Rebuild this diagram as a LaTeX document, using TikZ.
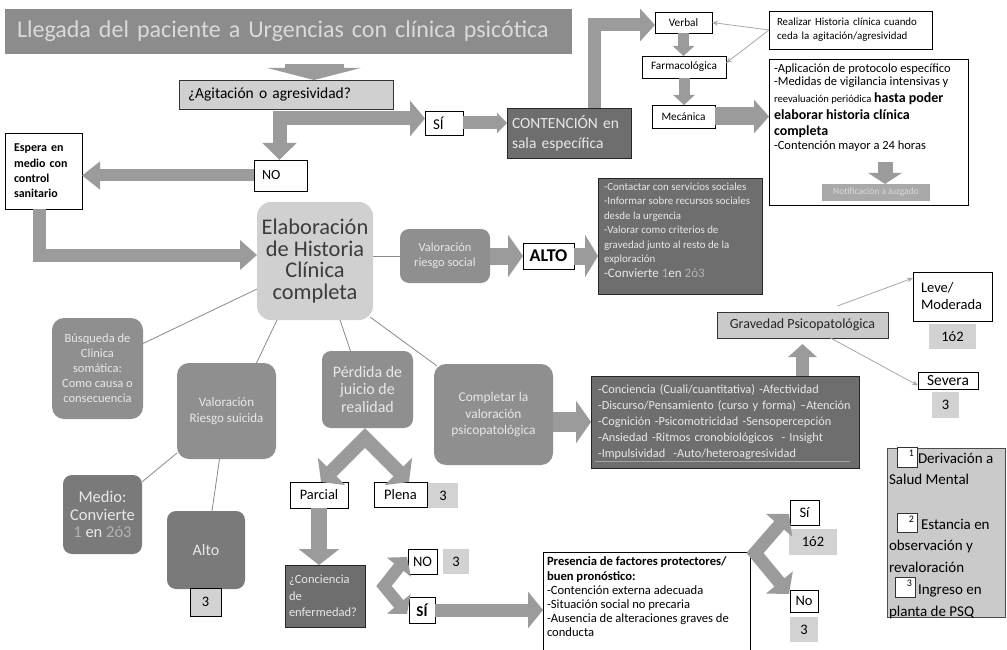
\documentclass[tikz,border=0pt]{standalone}
\usepackage{fontspec}
\setmainfont{Carlito}
\usetikzlibrary{arrows.meta,backgrounds}
\definecolor{titlegray}{HTML}{8C8C8C}
\definecolor{titletext}{HTML}{DADADA}
\definecolor{arr}{HTML}{9B9B9B}
\definecolor{lightbox}{HTML}{D0D0D0}
\definecolor{gravcol}{HTML}{CACACA}
\definecolor{midbox}{HTML}{8F8F8F}
\definecolor{roundbox}{HTML}{7A7A7A}
\definecolor{darkbox}{HTML}{6E6E6E}
\definecolor{boxtext}{HTML}{E8E8E8}
\definecolor{dimtext}{HTML}{B4B4B4}
\definecolor{numbox}{HTML}{D2D2D2}
\definecolor{conncol}{HTML}{8A8A8A}
\definecolor{thincol}{HTML}{A8A8A8}
\definecolor{notifcol}{HTML}{A9A9A9}
\definecolor{elabtext}{HTML}{3C3C3C}
\newcommand\fsz[2]{\fontsize{#1}{#2}\selectfont}
\begin{document}
\begin{tikzpicture}[x=1pt,y=-1pt,
  every node/.style={inner sep=0pt, outer sep=0pt, font=\fsz{11}{13}},
  sz/.style 2 args={minimum width=#1, minimum height=#2, anchor=north west},
  wbox/.style={draw=black, fill=white, line width=0.7pt},
  lbox/.style={draw=black!80, fill=lightbox, line width=0.7pt},
  mbox/.style={fill=midbox, rounded corners=9pt, text=boxtext, align=center},
  dbox/.style={draw=black!85, fill=darkbox, text=boxtext, line width=0.8pt},
  rbox/.style={fill=roundbox, rounded corners=9pt, text=boxtext, align=center},
  nbox/.style={fill=numbox},
  lefttext/.style 2 args={text width=#1, inner xsep=#2, align=left},
  barrow/.style={line width=#1, draw=arr, line join=miter},
  conn/.style={draw=conncol, line width=0.8pt},
  tarrow/.style={draw=thincol, line width=0.8pt, -{Stealth[length=6pt,width=5pt]}}]
\useasboundingbox (0,0) rectangle (1007,650);

% ---------- nodes ----------
\node[sz={567}{45}, fill=titlegray, text=titletext, lefttext={543pt}{12pt}, font=\fsz{24}{28}] (title) at (5,9) {Llegada del paciente a Urgencias con clínica psicótica};
\node[sz={214}{29}, lbox, lefttext={196pt}{9pt}, font=\fsz{15.5}{18}] (agit) at (179,80) {¿Agitación o agresividad?};
\node[sz={77}{76}, wbox, lefttext={59pt}{9pt}, font=\bfseries\fsz{12}{15.3}] (espera) at (5,133) {Espera en\\medio con\\control\\sanitario};
\node[sz={53}{31}, wbox, lefttext={37pt}{8pt}, font=\fsz{14}{16}] (no1) at (254,160) {NO};
\node[sz={38}{24}, wbox, lefttext={22pt}{8pt}, font=\fsz{15}{17}] (si1) at (425,111) {SÍ};
\node[sz={124}{50}, dbox, lefttext={114pt}{5pt}, font=\fsz{15.5}{20}] (cont) at (507,108) {CONTENCIÓN en\\sala específica};
\node[sz={57}{21}, wbox, font=\fsz{11.3}{13}] (verbal) at (655,12) {Verbal};
\node[sz={84}{22}, wbox, font=\fsz{11.3}{13}] (farm) at (642,56) {Farmacológica};
\node[sz={63}{23}, wbox, font=\fsz{11.3}{13}] (mec) at (652,105) {Mecánica};
\node[sz={163}{38}, wbox, lefttext={147pt}{8pt}, font=\fsz{10.9}{14}] (realizar) at (769,11) {Realizar Historia clínica cuando\\ceda la agitación/agresividad};
\node[sz={199}{146}, wbox] (prot) at (769,59) {};
\node[anchor=north west, align=left, font=\fsz{12.5}{13.3}] (prott) at (774,64) {-Aplicación de protocolo específico\\-Medidas de vigilancia intensivas y\\[3.5pt]{\fsz{10.6}{13}reevaluación periódica} {\bfseries\fsz{14}{13}hasta poder}\\[3.5pt]{\bfseries\fsz{14}{13}elaborar historia clínica}\\[3pt]{\bfseries\fsz{14}{13}completa}\\-Contención mayor a 24 horas};
\node[sz={108}{17}, fill=notifcol, text=titletext, font=\fsz{9.5}{11}] (notif) at (822,184) {Notificación a Juzgado};
\node[sz={164}{116}, dbox, align=left, font=\fsz{10.9}{14.4}] (social) at (598,178) {};
\node[anchor=north west, align=left, text=boxtext, font=\fsz{10.9}{14.4}] (socialt) at (604,183) {-Contactar con servicios sociales\\-Informar sobre recursos sociales\\desde la urgencia\\-Valorar como criterios de\\gravedad junto al resto de la\\exploración\\[1pt]{\fsz{13}{16}-Convierte {\color{dimtext}1}en {\color{dimtext}2ó3}}};
\node[sz={90}{54}, mbox, font=\fsz{12.4}{15}] (riesgo) at (400,229) {Valoración\\riesgo social};
\node[sz={51}{26}, wbox, font=\bfseries\fsz{18}{20}] (alto1) at (523,243) {ALTO};
\node[sz={116}{118}, fill=lightbox, rounded corners=14pt, text=elabtext, align=center, font=\fsz{22.4}{21.7}] (elab) at (257,202) {Elaboración\\de Historia\\Clínica\\completa};
\node[sz={91}{101}, mbox, rounded corners=12pt, font=\fsz{12.5}{15}] (busq) at (52,318) {Búsqueda de\\Clinica\\somática:\\Como causa o\\consecuencia};
\node[sz={99}{96}, mbox, rounded corners=12pt, font=\fsz{13}{16}] (suic) at (177,363) {Valoración\\Riesgo suicida};
\node[sz={79}{79}, rbox, font=\fsz{16.5}{17.5}] (medio) at (63,475) {Medio:\\Convierte\\{\color{dimtext}1} en {\color{dimtext}2ó3}};
\node[sz={78}{78}, rbox, font=\fsz{16}{18}] (alto2) at (167,511) {Alto};
\node[sz={31}{28}, nbox, draw=black, line width=0.7pt, font=\fsz{14.5}{16}] (alto3) at (190,588) {3};
\node[sz={91}{77}, mbox, font=\fsz{16}{17.5}] (perd) at (322,351) {Pérdida de\\juicio de\\realidad};
\node[sz={119}{101}, mbox, rounded corners=12pt, font=\fsz{13.4}{16.5}] (comp) at (434,364) {Completar la\\valoración\\psicopatológica};
\node[sz={268}{92}, dbox, lefttext={254pt}{7pt}, font=\fsz{12.3}{16}] (list) at (591,376) {-Conciencia (Cuali/cuantitativa) -Afectividad\\-Discurso/Pensamiento (curso y forma) –Atención\\-Cognición -Psicomotricidad -Sensopercepción\\-Ansiedad -Ritmos cronobiológicos~ - Insight\\-Impulsividad~ -Auto/heteroagresividad};
\node[sz={171}{26}, lbox, fill=gravcol, text=black!85, font=\fsz{14}{16}] (grav) at (717,312) {Gravedad Psicopatológica};
\node[sz={79}{49}, wbox, lefttext={63pt}{8pt}, font=\fsz{14.5}{17}] (leve) at (913,272) {Leve/\\Moderada};
\node[sz={47}{25}, nbox, font=\fsz{14.5}{16}] (n12a) at (929,324) {1ó2};
\node[sz={60}{17}, wbox, font=\fsz{15.5}{17}] (severa) at (918,372) {Severa};
\node[sz={27}{26}, nbox, font=\fsz{14.5}{16}] (n3a) at (932,392) {3};
% legend
\node[sz={118}{169}, lbox, fill=gravcol, draw=black!70] (leg) at (887,448) {};
\node[sz={20}{20}, wbox, draw=black!80, label={[anchor=north east, inner sep=3pt, font=\fsz{10}{12}]north east:1}] (l1) at (897,447) {};
\node[sz={20}{19}, wbox, draw=black!80, label={[anchor=north east, inner sep=3pt, font=\fsz{10}{12}]north east:2}] (l2) at (897,513) {};
\node[sz={20}{20}, wbox, draw=black!80, label={[anchor=north east, inner sep=3pt, font=\fsz{10}{12}]north east:3}] (l3) at (895,577) {};
\node[anchor=north west, align=left, font=\fsz{15}{21.5}] (lt1) at (889,453) {\hspace*{29pt}Derivación a\\Salud Mental};
\node[anchor=north west, align=left, font=\fsz{15}{21.5}] (lt2) at (889,519) {\hspace*{32pt}Estancia en\\observación y\\revaloración};
\node[anchor=north west, align=left, font=\fsz{15}{21.5}] (lt3) at (889,585) {\hspace*{29pt}Ingreso en\\planta de PSQ};
% lower part
\node[sz={58}{26}, wbox, font=\fsz{14.4}{16}] (parc) at (290,482) {Parcial};
\node[sz={53}{25}, wbox, font=\fsz{14.5}{16}] (plena) at (374,482) {Plena};
\node[sz={30}{25}, nbox, font=\fsz{14.5}{16}] (n3b) at (428,483) {3};
\node[sz={80}{62}, dbox, lefttext={72pt}{4pt}, font=\fsz{12.5}{16.5}] (conc) at (285,565) {¿Conciencia\\de\\enfermedad?};
\node[sz={29}{25}, wbox, font=\fsz{14.5}{16}] (no2) at (408,549) {NO};
\node[sz={26}{25}, nbox, font=\fsz{14.5}{16}] (n3c) at (443,549) {3};
\node[sz={26}{26}, wbox, font=\bfseries\fsz{15}{17}] (si2) at (409,597) {SÍ};
\node[sz={207}{110}, wbox] (pres) at (543,552) {};
\node[anchor=north west, align=left, font=\fsz{12.6}{14.2}] (prest) at (547,557) {\textbf{Presencia de factores protectores/}\\\textbf{buen pronóstico:}\\-Contención externa adecuada\\-Situación social no precaria\\-Ausencia de alteraciones graves de\\conducta};
\node[sz={29}{25}, wbox, font=\fsz{14.5}{16}] (si3) at (790,500) {Sí};
\node[sz={48}{26}, nbox, font=\fsz{14.5}{16}] (n12b) at (789,529) {1ó2};
\node[sz={28}{22}, wbox, font=\fsz{14.5}{16}] (no3) at (790,590) {No};
\node[sz={28}{25}, nbox, font=\fsz{14.5}{16}] (n3d) at (790,617) {3};

\draw[draw=black!35, line width=0.6pt] ([xshift=4pt,yshift=7pt]list.south west) -- ([xshift=-9pt,yshift=7pt]list.south east);

% ---------- block arrows ----------
\coordinate (a1) at (314,64);
\draw[barrow=59pt, -{Triangle[length=12pt,width=93pt]}] (a1) -- (a1 |- agit.north);
\coordinate (a2) at (279.5,118.5);
\draw[barrow=14pt, {Triangle[length=17pt,width=33pt]}-{Triangle[length=15pt,width=35pt]}] (a2 |- no1.north) -- (a2) -- (a2 -| si1.west);
\draw[barrow=12pt, -{Triangle[length=18pt,width=27pt]}] (no1.west) -- (no1.west -| espera.east);
\coordinate (a4) at (39,255);
\draw[barrow=13pt, -{Triangle[length=17pt,width=29pt]}] (a4 |- espera.south) -- (a4) -- (a4 -| elab.west);
\draw[barrow=13pt, -{Triangle[length=10pt,width=20pt]}] (si1.east) -- (si1.east -| cont.west);
\coordinate (a6) at (594,25);
\draw[barrow=13pt, -{Triangle[length=15pt,width=32pt]}] (a6 |- cont.north) -- (a6) -- (a6 -| verbal.west);
\draw[barrow=11pt, -{Triangle[length=10pt,width=21pt]}] (verbal.south) -- (verbal.south |- farm.north);
\draw[barrow=11pt, -{Triangle[length=10pt,width=21pt]}] (farm.south) -- (farm.south |- mec.north);
\draw[barrow=18pt, -{Triangle[length=15pt,width=33pt]}] (mec.east) -- (mec.east -| prot.west);
\coordinate (a10) at (885,162);
\draw[barrow=15pt, -{Triangle[length=11pt,width=33pt]}] (a10) -- (a10 |- notif.north);
\draw[barrow=17pt, -{Triangle[length=15pt,width=42pt]}] (riesgo.east) -- (alto1.west);
\draw[barrow=17pt, -{Triangle[length=13pt,width=42pt]}] (alto1.east) -- (alto1.east -| social.west);
\draw[barrow=20pt, -{Triangle[length=15pt,width=42pt]}] (comp.east |- list.west) -- (list.west);
\draw[barrow=13pt, -{Triangle[length=13pt,width=28pt]}] (grav.south |- list.north) -- ([yshift=-6pt]grav.south);
\coordinate (pa) at (365,438);
\coordinate (pl) at (321,482);
\coordinate (pr) at (409,482);
\draw[barrow=14pt, {Triangle[length=15pt,width=38pt]}-{Triangle[length=15pt,width=38pt]}] (pl) -- (pa) -- (pr);
\draw[barrow=16pt, -{Triangle[length=16pt,width=40pt]}] (parc.south) -- (parc.south |- conc.north);
\coordinate (ca) at (384,586);
\coordinate (cn) at (407,557);
\coordinate (cs) at (407,614);
\draw[barrow=12pt, {Triangle[length=13pt,width=30pt]}-{Triangle[length=13pt,width=30pt]}] (cn) -- (ca) -- (cs);
\draw[barrow=13pt, -{Triangle[length=15pt,width=36pt]}] (si2.east) -- (si2.east -| pres.west);
\coordinate (sa) at (755,553);
\coordinate (sn) at (789,514);
\coordinate (ss) at (789,594);
\draw[barrow=13pt, {Triangle[length=15pt,width=34pt]}-{Triangle[length=15pt,width=34pt]}] (sn) -- (sa) -- (ss);

% ---------- thin arrows ----------
\draw[tarrow] (realizar.west) -- (verbal.east);
\draw[tarrow] (realizar.west) -- ([yshift=4pt]farm.east);
\draw[tarrow] ([xshift=35pt,yshift=6pt]grav.north) -- ([yshift=-6pt]leve.north west);
\draw[tarrow] ([xshift=28pt]grav.south) -- ([yshift=-5pt]severa.west);

% ---------- background connectors ----------
\begin{pgfonlayer}{background}
\fill[white] (0,0) rectangle (1007,650);
\draw[conn] (riesgo.west -| elab.east) -- (riesgo.west);
\draw[conn] ([yshift=-28pt]elab.west) -- ([yshift=25pt]busq.east);
\draw[conn] ([xshift=-38pt]elab.south) -- ([xshift=30pt]suic.north);
\draw[conn] ([xshift=25pt]elab.south) -- ([xshift=-17pt]perd.north);
\draw[conn] ([xshift=-3pt,yshift=3pt]elab.south east) -- ([xshift=3pt,yshift=-2pt]comp.north west);
\draw[conn] ([yshift=6pt]suic.south west) -- ([yshift=-7pt]medio.north east);
\draw[conn] ([xshift=-7pt]suic.south) -- ([xshift=6pt]alto2.north);
\end{pgfonlayer}
\end{tikzpicture}
\end{document}
